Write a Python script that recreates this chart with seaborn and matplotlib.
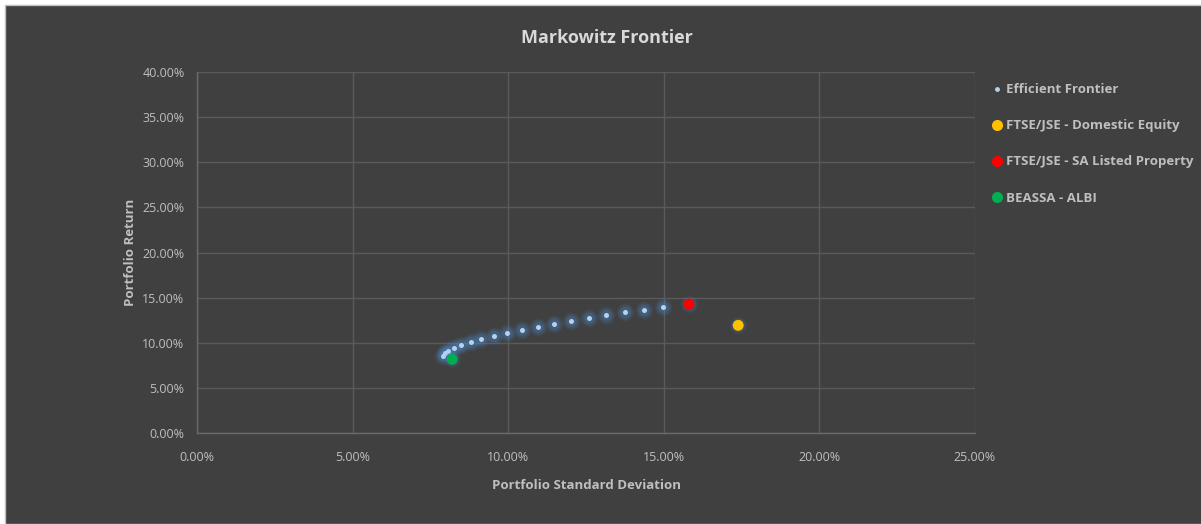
import matplotlib
matplotlib.use("Agg")
import matplotlib.pyplot as plt
from matplotlib.patches import Rectangle
from matplotlib.ticker import PercentFormatter, MultipleLocator
from matplotlib.lines import Line2D
import seaborn as sns
import pandas as pd

# Efficient frontier: portfolio standard deviation vs. return (in %)
frontier_sd = [7.92, 7.97, 8.06, 8.25, 8.49, 8.80, 9.14, 9.54, 9.97, 10.45,
               10.96, 11.46, 12.01, 12.59, 13.15, 13.75, 14.37, 14.99]
frontier_ret = [8.53, 8.83, 9.12, 9.42, 9.79, 10.08, 10.42, 10.75, 11.08, 11.41,
                11.75, 12.08, 12.38, 12.71, 13.04, 13.37, 13.66, 14.00]

# Individual asset classes
assets = ["FTSE/JSE - Domestic Equity", "FTSE/JSE - SA Listed Property", "BEASSA - ALBI"]
asset_sd = [17.39, 15.81, 8.20]
asset_ret = [11.93, 14.29, 8.17]
asset_colors = ["#FFC000", "#FF0000", "#00B050"]

BG = "#404040"
TXT = "#bfbfbf"
GRID = "#5a5a5a"
GLOW = "#4a86c5"

sns.set_theme(style="dark")
plt.rcParams["font.family"] = ["Open Sans", "DejaVu Sans"]

fig = plt.figure(figsize=(12.01, 5.24), dpi=100, facecolor="white")
frame = Rectangle((5 / 1201, 0), 1, 1 - 5 / 524, transform=fig.transFigure,
                  facecolor=BG, edgecolor="#bfbfbf", linewidth=1.0, zorder=-10)
fig.patches.append(frame)

ax = fig.add_axes([197 / 1201, 1 - 433 / 524, (975 - 197) / 1201, (433 - 72) / 524])
ax.set_facecolor(BG)

frontier = pd.DataFrame({"sd": frontier_sd, "ret": frontier_ret})
asset_df = pd.DataFrame({"sd": asset_sd, "ret": asset_ret, "asset": assets})

# soft glow under the frontier points (stacked translucent discs)
for size, alpha in [(170, 0.10), (110, 0.16), (60, 0.25)]:
    sns.scatterplot(data=frontier, x="sd", y="ret", ax=ax, s=size, color=GLOW,
                    alpha=alpha, linewidth=0, zorder=3, legend=False)
sns.scatterplot(data=frontier, x="sd", y="ret", ax=ax, s=13, color="#b4d2f0",
                linewidth=0, zorder=4, legend=False)

# glow under the asset markers
for size, alpha in [(150, 0.10), (100, 0.16)]:
    sns.scatterplot(data=asset_df, x="sd", y="ret", ax=ax, s=size, color=GLOW,
                    alpha=alpha, linewidth=0, zorder=5, legend=False)
sns.scatterplot(data=asset_df, x="sd", y="ret", hue="asset", palette=asset_colors,
                hue_order=assets, ax=ax, s=62, linewidth=0, zorder=6, legend=False)

ax.set_xlim(0, 25)
ax.set_ylim(0, 40)
ax.xaxis.set_major_locator(MultipleLocator(5))
ax.yaxis.set_major_locator(MultipleLocator(5))
ax.xaxis.set_major_formatter(PercentFormatter(decimals=2))
ax.yaxis.set_major_formatter(PercentFormatter(decimals=2))
ax.grid(True, color=GRID, linewidth=1.0)
ax.set_axisbelow(True)
for side in ["top", "right"]:
    ax.spines[side].set_visible(False)
for side in ["left", "bottom"]:
    ax.spines[side].set_color("#6a6a6a")
    ax.spines[side].set_linewidth(1.0)
ax.tick_params(axis="both", colors=TXT, labelsize=9, length=0)
ax.tick_params(axis="x", pad=13)
ax.tick_params(axis="y", pad=9)

ax.set_xlabel("Portfolio Standard Deviation", color=TXT, fontsize=9.5,
              fontweight="bold", labelpad=11)
ax.set_ylabel("Portfolio Return", color=TXT, fontsize=9.5, fontweight="bold",
              labelpad=4)
fig.text(607 / 1201, 1 - 38 / 524, "Markowitz Frontier", color="#d9d9d9",
         fontsize=13, fontweight="bold", ha="center", va="center")

handles = [Line2D([], [], marker="o", linestyle="", markersize=3.5,
                  markerfacecolor="#b4d2f0", markeredgewidth=0)]
labels = ["Efficient Frontier"]
for name, c in zip(assets, asset_colors):
    handles.append(Line2D([], [], marker="o", linestyle="", markersize=8,
                          markerfacecolor=c, markeredgewidth=0))
    labels.append(name)
leg = fig.legend(handles, labels, loc="upper left",
                 bbox_to_anchor=(988 / 1201, 1 - 78 / 524), frameon=False,
                 fontsize=9.5, handlelength=0.6, handletextpad=0.4,
                 labelspacing=1.75, borderaxespad=0)
for t in leg.get_texts():
    t.set_color(TXT)
    t.set_fontweight("bold")

fig.savefig("out.png", dpi=100, facecolor=fig.get_facecolor())
